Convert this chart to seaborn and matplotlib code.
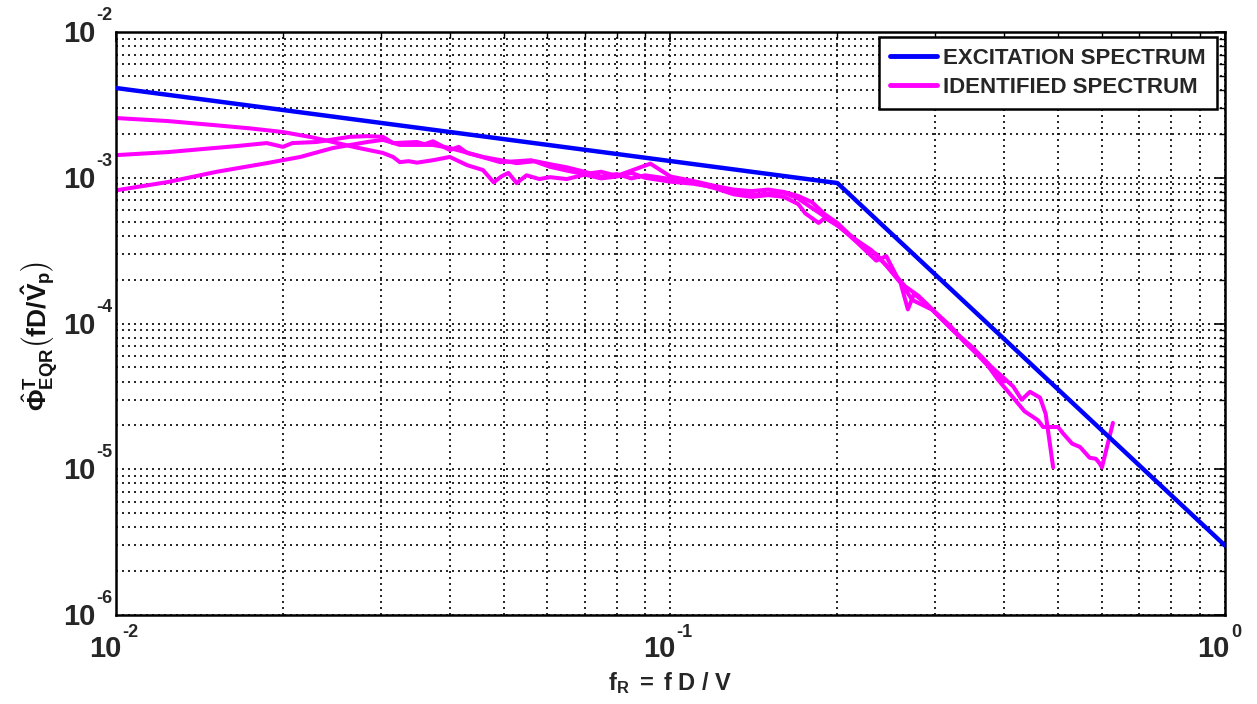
import matplotlib
matplotlib.use("Agg")
import matplotlib.pyplot as plt
import numpy as np
import seaborn as sns
import pandas as pd

# excitation spectrum (break points)
exc_f = [0.01, 0.2, 1.0]
exc_phi = [4.13e-3, 9.2e-4, 3.0e-6]

# identified spectra (three runs)
id1_f = [0.0100, 0.0124, 0.0150, 0.0175, 0.0200, 0.0225, 0.0246, 0.0270, 0.0303, 0.0316,
         0.0325, 0.0337, 0.0349, 0.0373, 0.0400, 0.0415, 0.0430, 0.0459, 0.0480, 0.0495,
         0.0510, 0.0528, 0.0550, 0.0580, 0.0606, 0.0650, 0.0700, 0.0750, 0.0800, 0.0850,
         0.0900, 0.1000, 0.1100, 0.1200, 0.1300, 0.1400, 0.1500, 0.1600, 0.1700, 0.1800,
         0.1900, 0.2020, 0.2170, 0.2350, 0.2450, 0.2560, 0.2730, 0.2970, 0.3230, 0.3500,
         0.3800, 0.4000, 0.4150, 0.4300, 0.4450, 0.4640, 0.4750, 0.4800, 0.4900]
id1_phi = [2.57e-3, 2.45e-3, 2.30e-3, 2.18e-3, 2.06e-3, 1.90e-3, 1.76e-3, 1.62e-3, 1.48e-3, 1.39e-3,
           1.28e-3, 1.30e-3, 1.27e-3, 1.32e-3, 1.39e-3, 1.30e-3, 1.22e-3, 1.13e-3, 9.3e-4, 1.02e-3,
           1.08e-3, 9.2e-4, 1.04e-3, 9.8e-4, 1.01e-3, 9.8e-4, 1.05e-3, 9.9e-4, 1.02e-3, 1.08e-3,
           1.00e-3, 9.4e-4, 9.1e-4, 8.6e-4, 8.0e-4, 7.6e-4, 7.8e-4, 7.9e-4, 7.2e-4, 6.2e-4,
           5.4e-4, 4.6e-4, 3.6e-4, 2.7e-4, 2.9e-4, 2.1e-4, 1.45e-4, 1.24e-4, 9.0e-5, 6.9e-5,
           5.0e-5, 4.2e-5, 3.7e-5, 3.0e-5, 3.4e-5, 3.1e-5, 2.4e-5, 1.8e-5, 1.03e-5]

id2_f = [0.0100, 0.0124, 0.0142, 0.0165, 0.0187, 0.0200, 0.0208, 0.0230, 0.0264, 0.0284,
         0.0303, 0.0316, 0.0349, 0.0360, 0.0373, 0.0400, 0.0415, 0.0430, 0.0460, 0.0493,
         0.0530, 0.0561, 0.0606, 0.0650, 0.0700, 0.0750, 0.0800, 0.0850, 0.0920, 0.1000,
         0.1100, 0.1200, 0.1300, 0.1400, 0.1500, 0.1600, 0.1700, 0.1800, 0.1900, 0.2000,
         0.2100, 0.2250, 0.2350, 0.2500, 0.2650, 0.2800, 0.3000, 0.3200, 0.3400, 0.3650,
         0.3900, 0.4150, 0.4350, 0.4600, 0.4700, 0.5000, 0.5100, 0.5300, 0.5480, 0.5700,
         0.5850, 0.5940, 0.6000, 0.6280]
id2_phi = [1.43e-3, 1.50e-3, 1.57e-3, 1.65e-3, 1.73e-3, 1.63e-3, 1.73e-3, 1.76e-3, 1.91e-3, 1.93e-3,
           1.91e-3, 1.73e-3, 1.76e-3, 1.70e-3, 1.78e-3, 1.55e-3, 1.63e-3, 1.48e-3, 1.38e-3, 1.28e-3,
           1.30e-3, 1.32e-3, 1.19e-3, 1.12e-3, 1.06e-3, 1.10e-3, 1.03e-3, 1.12e-3, 1.25e-3, 1.02e-3,
           9.5e-4, 8.8e-4, 8.3e-4, 8.1e-4, 8.3e-4, 8.0e-4, 7.5e-4, 6.8e-4, 5.6e-4, 4.9e-4,
           4.1e-4, 3.3e-4, 3.0e-4, 2.3e-4, 1.8e-4, 1.55e-4, 1.20e-4, 9.6e-5, 7.4e-5, 5.8e-5,
           4.1e-5, 3.1e-5, 2.5e-5, 2.17e-5, 1.95e-5, 1.95e-5, 1.77e-5, 1.50e-5, 1.42e-5, 1.20e-5,
           1.18e-5, 1.10e-5, 1.03e-5, 2.08e-5]

id3_f = [0.0100, 0.0124, 0.0152, 0.0187, 0.0215, 0.0246, 0.0284, 0.0303, 0.0325, 0.0373,
         0.0400, 0.0459, 0.0528, 0.0570, 0.0606, 0.0650, 0.0700, 0.0750, 0.0800, 0.0850,
         0.0900, 0.1000, 0.1100, 0.1200, 0.1300, 0.1400, 0.1500, 0.1600, 0.1700, 0.1750,
         0.1850, 0.1900, 0.2000, 0.2150, 0.2300, 0.2450, 0.2600, 0.2680, 0.2750, 0.2900,
         0.3100, 0.3300, 0.3550, 0.3800, 0.4000]
id3_phi = [8.2e-4, 9.35e-4, 1.10e-3, 1.26e-3, 1.39e-3, 1.60e-3, 1.76e-3, 1.82e-3, 1.68e-3, 1.68e-3,
           1.60e-3, 1.39e-3, 1.26e-3, 1.30e-3, 1.24e-3, 1.18e-3, 1.10e-3, 1.02e-3, 1.06e-3, 9.9e-4,
           1.04e-3, 9.8e-4, 9.3e-4, 8.5e-4, 7.7e-4, 7.4e-4, 7.6e-4, 7.4e-4, 6.6e-4, 5.7e-4,
           4.9e-4, 5.3e-4, 4.7e-4, 3.8e-4, 3.2e-4, 2.5e-4, 1.9e-4, 1.25e-4, 1.6e-4, 1.35e-4,
           1.05e-4, 8.3e-5, 6.3e-5, 4.8e-5, 4.0e-5]

x_ticks = [1e-2, 1e-1, 1e0]
x_exps = ['-2', '-1', '0']
y_ticks = [1e-6, 1e-5, 1e-4, 1e-3, 1e-2]
y_exps = ['-6', '-5', '-4', '-3', '-2']

sns.set_style("white")
plt.rcParams['font.family'] = ['Liberation Sans', 'DejaVu Sans']
plt.rcParams['mathtext.fontset'] = 'custom'
plt.rcParams['mathtext.rm'] = 'Liberation Sans'
plt.rcParams['mathtext.bf'] = 'Liberation Sans:bold'
plt.rcParams['mathtext.it'] = 'Liberation Sans:italic'

fig = plt.figure(figsize=(12.57, 7.04), dpi=100)
ax = fig.add_axes([0.0923, 0.1264, 0.8822, 0.8281])

blue = '#0000ff'
mag = '#ff00ff'
sns.lineplot(x=exc_f, y=exc_phi, ax=ax, color=blue, lw=3.2, label='EXCITATION SPECTRUM', zorder=3)
sns.lineplot(x=id1_f, y=id1_phi, ax=ax, color=mag, lw=2.9, sort=False, estimator=None,
             label='IDENTIFIED SPECTRUM', zorder=2)
sns.lineplot(x=id2_f, y=id2_phi, ax=ax, color=mag, lw=2.9, sort=False, estimator=None, zorder=2)
sns.lineplot(x=id3_f, y=id3_phi, ax=ax, color=mag, lw=2.9, sort=False, estimator=None, zorder=2)

ax.set_xscale('log')
ax.set_yscale('log')
ax.set_xlim(1e-2, 1)
ax.set_ylim(1e-6, 1e-2)

ax.grid(True, which='both', color='black', linestyle=(0, (1.2, 2.4)), linewidth=1.2)
ax.set_axisbelow(True)

ax.set_xticks(x_ticks)
ax.set_yticks(y_ticks)
ax.set_xticklabels([])
ax.set_yticklabels([])
ax.tick_params(which='both', direction='in', top=True, right=True, color='black')
ax.tick_params(which='major', length=7, width=1.2)
ax.tick_params(which='minor', length=4, width=1.0)
for s in ax.spines.values():
    s.set_color('black')
    s.set_linewidth(1.8)

# MATLAB-like tick labels: big "10" with small raised exponent
for t, e in zip(x_ticks, x_exps):
    ax.annotate('10', xy=(t, 0), xycoords=('data', 'axes fraction'), xytext=(5, -42),
                textcoords='offset pixels', ha='right', va='baseline', fontsize=21,
                fontweight='bold', annotation_clip=False)
    ax.annotate(e, xy=(t, 0), xycoords=('data', 'axes fraction'), xytext=(6, -22),
                textcoords='offset pixels', ha='left', va='baseline', fontsize=13,
                fontweight='bold', annotation_clip=False)
for t, e in zip(y_ticks, y_exps):
    ax.annotate('10', xy=(0, t), xycoords=('axes fraction', 'data'), xytext=(-21, -10),
                textcoords='offset pixels', ha='right', va='baseline', fontsize=21,
                fontweight='bold', annotation_clip=False)
    ax.annotate(e, xy=(0, t), xycoords=('axes fraction', 'data'), xytext=(-20, 12),
                textcoords='offset pixels', ha='left', va='baseline', fontsize=13,
                fontweight='bold', annotation_clip=False)

ax.set_xlabel(r'$\mathbf{f_R\ =\ f\ D\ /\ V}$', fontsize=17)
ax.xaxis.set_label_coords(0.5, -0.095)
ax.set_ylabel(r'$\hat{\mathbf{\Phi}}^{\mathbf{T}}_{\mathbf{EQR}}\left(\mathbf{fD/\hat{V}_p}\right)$',
              fontsize=19, color='#111111')
ax.yaxis.set_label_coords(-0.05, 0.478)

leg = ax.legend(loc='upper right', bbox_to_anchor=(1 - 8 / 1109, 1 - 5 / 583), frameon=True,
                fancybox=False, borderpad=0.5, handlelength=2.1, handletextpad=0.3,
                labelspacing=0.35, borderaxespad=0.0, prop={'weight': 'bold', 'size': 16})
leg.get_frame().set_edgecolor('black')
leg.get_frame().set_linewidth(1.8)
leg.get_frame().set_alpha(1)
for line in leg.get_lines():
    line.set_linewidth(3.5)

fig.savefig('out.png', dpi=100)
